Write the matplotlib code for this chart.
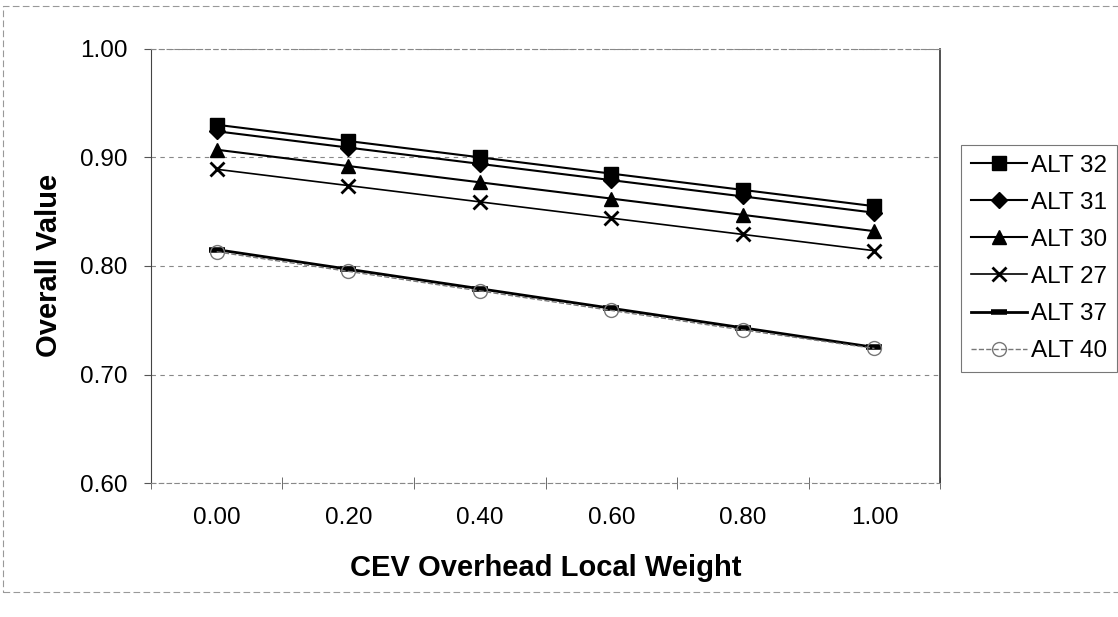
import matplotlib
matplotlib.use("Agg")
import matplotlib.pyplot as plt
from matplotlib.patches import Rectangle

plt.rcParams['font.family'] = ['Liberation Sans', 'DejaVu Sans']

# CEV overhead local weight (categories on x axis)
weights = ["0.00", "0.20", "0.40", "0.60", "0.80", "1.00"]

# overall value of each alternative
alt32 = [0.930, 0.915, 0.900, 0.885, 0.870, 0.855]
alt31 = [0.924, 0.909, 0.894, 0.879, 0.864, 0.849]
alt30 = [0.907, 0.892, 0.877, 0.862, 0.847, 0.832]
alt27 = [0.889, 0.874, 0.859, 0.844, 0.829, 0.814]
alt37 = [0.815, 0.797, 0.779, 0.761, 0.743, 0.725]
alt40 = [0.813, 0.795, 0.777, 0.759, 0.741, 0.724]

fig = plt.figure(figsize=(11.18, 6.17), dpi=100)
ax = fig.add_axes([0.135, 0.217, 0.706, 0.704])

x = list(range(len(weights)))

ax.plot(x, alt32, color='black', lw=1.5, marker='s', ms=10, label='ALT 32')
ax.plot(x, alt31, color='black', lw=1.5, marker='D', ms=8, label='ALT 31')
ax.plot(x, alt30, color='black', lw=1.5, marker='^', ms=10, label='ALT 30')
ax.plot(x, alt27, color='black', lw=1.2, marker='x', ms=10, mew=2, label='ALT 27')
ax.plot(x, alt37, color='black', lw=2, marker='_', ms=12, mew=4, label='ALT 37')
ax.plot(x, alt40, color='#777777', lw=1, ls='--', marker='o', ms=10,
        mfc='none', mec='#777777', mew=1, label='ALT 40')

ax.set_xlim(-0.5, len(weights) - 0.5)
ax.set_ylim(0.60, 1.00)
ax.set_yticks([0.60, 0.70, 0.80, 0.90, 1.00])
ax.set_yticklabels(["0.60", "0.70", "0.80", "0.90", "1.00"])
ax.set_xticks(x)
ax.set_xticklabels(weights)
ax.set_xticks([i - 0.5 for i in range(len(weights) + 1)], minor=True)

ax.tick_params(axis='x', which='major', length=0, pad=17, labelsize=17.5)
ax.tick_params(axis='x', which='minor', length=8, direction='inout', color='#555555')
ax.tick_params(axis='y', length=5, direction='out', pad=12, labelsize=17.5, color='#555555')

# dotted gridlines like the scanned Excel chart
ax.grid(axis='y', ls=(0, (4, 4)), color='#888888', lw=0.8)
for side in ['top', 'bottom']:
    ax.spines[side].set_linestyle((0, (4, 3)))
    ax.spines[side].set_color('#888888')
    ax.spines[side].set_linewidth(0.8)
ax.spines['left'].set_color('#444444')
ax.spines['right'].set_color('#333333')
ax.spines['right'].set_linewidth(1.2)

ax.set_xlabel("CEV Overhead Local Weight", fontsize=21, fontweight='bold', labelpad=18)
ax.set_ylabel("Overall Value", fontsize=21, fontweight='bold', labelpad=12)

leg = ax.legend(loc='upper left', bbox_to_anchor=(0.86, 0.765), bbox_transform=fig.transFigure,
                fontsize=17.5, frameon=True, fancybox=False, handlelength=2.3,
                handletextpad=0.15, labelspacing=0.62, borderpad=0.4, borderaxespad=0)
leg.get_frame().set_edgecolor('#555555')
leg.get_frame().set_linewidth(0.8)

# faint outer chart border from the scan
fig.patches.append(Rectangle((0.003, 0.04), 1.2, 0.95, transform=fig.transFigure,
                             fill=False, ec='#999999', lw=0.8, ls=(0, (6, 3))))

fig.savefig("out.png", dpi=100, facecolor='white')
